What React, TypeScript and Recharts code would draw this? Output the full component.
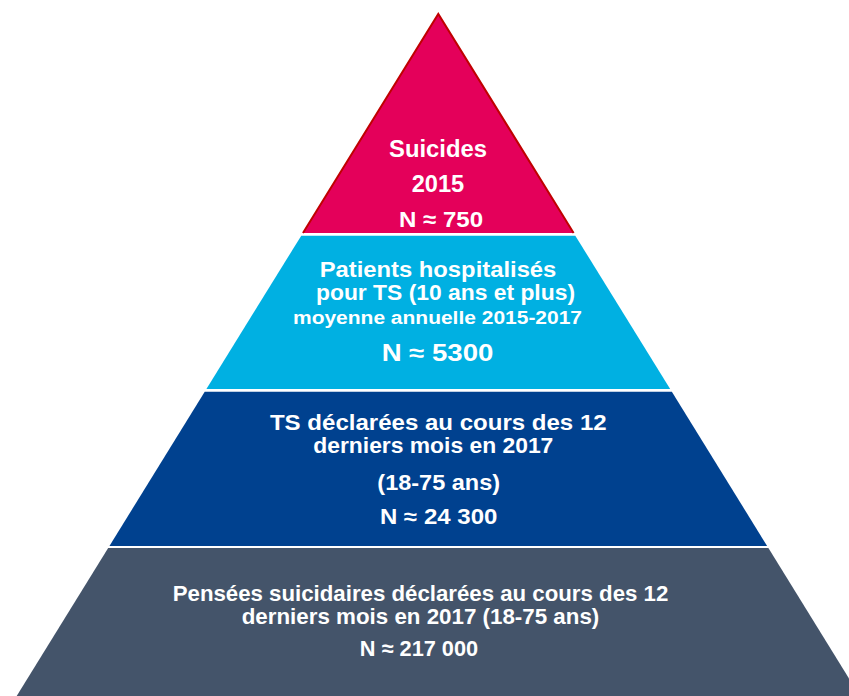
import React from 'react';
import { ComposedChart, Area, XAxis, YAxis } from 'recharts';

// Pyramid layers, top to bottom. Levels are in % of the pyramid height (0 = base, 100 = apex);
// horizontal units are % of the half base width, so a side sits at ±(100 - level).
const layerNames = ['Suicides', 'Patients hospitalisés', 'TS déclarées', 'Pensées suicidaires'];
const layerBottom = [67.9, 45.0, 22.0, 0];
const layerTop = [100, 67.5, 44.6, 21.7];
const nValues = ['750', '5300', '24 300', '217 000'];

const labelLines = [
  ['Suicides', '2015', `N ≈ ${nValues[0]}`],
  ['Patients hospitalisés', 'pour TS (10 ans et plus)', 'moyenne annuelle 2015-2017', `N ≈ ${nValues[1]}`],
  ['TS déclarées au cours des 12', 'derniers mois en 2017', '(18-75 ans)', `N ≈ ${nValues[2]}`],
  ['Pensées suicidaires déclarées au cours des 12', 'derniers mois en 2017 (18-75 ans)', `N ≈ ${nValues[3]}`],
];

// styles
const layerFill = ['#E4005A', '#00B0E2', '#00418F', '#44546A'];
const layerStroke = ['#C00000', 'none', 'none', 'none'];

// text layout (baseline y, center x, font size, rendered width)
const labelLayout = [
  [
    { cx: 438, y: 156.5, fs: 23, w: 98 },
    { cx: 438, y: 191.5, fs: 23, w: 52.5 },
    { cx: 441, y: 226.5, fs: 22.5, w: 84 },
  ],
  [
    { cx: 438, y: 277, fs: 21.5, w: 236.7 },
    { cx: 445.5, y: 300, fs: 22, w: 259 },
    { cx: 437.5, y: 324, fs: 17.5, w: 289 },
    { cx: 437.5, y: 361, fs: 23.5, w: 111.7 },
  ],
  [
    { cx: 438.3, y: 429.5, fs: 22.3, w: 336.7 },
    { cx: 433.3, y: 453, fs: 22.5, w: 240 },
    { cx: 438.7, y: 490, fs: 21.5, w: 122.7 },
    { cx: 438.7, y: 524, fs: 21.5, w: 117.3 },
  ],
  [
    { cx: 420.5, y: 600.5, fs: 21.5, w: 495.6 },
    { cx: 420.5, y: 623.5, fs: 21.5, w: 357.6 },
    { cx: 419, y: 656, fs: 22, w: 118.3 },
  ],
];

const layerData = layerBottom.map((b, i) => {
  const t = layerTop[i];
  return [
    { x: -(100 - b), y: b },
    { x: -(100 - t), y: t },
    { x: 100 - t, y: t },
    { x: 100 - b, y: b },
  ];
});

const W = 849;
const H = 696;

export default function App() {
  return (
    <div style={{ position: 'absolute', left: 0, top: 0, width: W, height: H, background: '#fff' }}>
      <ComposedChart width={W} height={H} margin={{ top: 0, right: 0, bottom: 0, left: 0 }}>
        <XAxis type="number" dataKey="x" domain={[-103.96, 97.42]} allowDataOverflow hide />
        <YAxis type="number" domain={[0, 102.05]} allowDataOverflow hide />
        {layerData.map((d, i) => (
          <Area
            key={layerNames[i]}
            name={layerNames[i]}
            data={d}
            dataKey="y"
            type="linear"
            baseValue={layerBottom[i]}
            fill={layerFill[i]}
            fillOpacity={1}
            stroke={layerStroke[i]}
            strokeWidth={2}
            dot={false}
            activeDot={false}
            isAnimationActive={false}
          />
        ))}
      </ComposedChart>
      <svg
        width={W}
        height={H}
        style={{ position: 'absolute', left: 0, top: 0, pointerEvents: 'none' }}
      >
        {labelLines.map((lines, i) =>
          lines.map((txt, j) => {
            const L = labelLayout[i][j];
            return (
              <text
                key={`${i}-${j}`}
                x={L.cx}
                y={L.y}
                textAnchor="middle"
                fill="#ffffff"
                fontFamily="'Liberation Sans', Arial, sans-serif"
                fontWeight="bold"
                fontSize={L.fs}
                textLength={L.w}
                lengthAdjust="spacingAndGlyphs"
              >
                {txt}
              </text>
            );
          })
        )}
      </svg>
    </div>
  );
}
